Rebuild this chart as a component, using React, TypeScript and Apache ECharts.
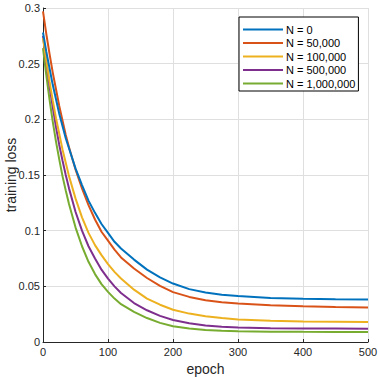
import React, { useEffect, useRef } from "react";
import * as echarts from "echarts";

const epochs = [0, 5, 10, 15, 20, 25, 30, 35, 40, 50, 60, 70, 80, 90, 100, 110, 120, 140, 160, 180, 200, 225, 250, 275, 300, 350, 400, 450, 500];

const seriesNames = ["N = 0", "N = 50,000", "N = 100,000", "N = 500,000", "N = 1,000,000"];
const seriesColors = ["#0072BD", "#D95319", "#EDB120", "#7E2F8E", "#77AC30"];

const lossN0 = [0.278, 0.261, 0.246, 0.231, 0.218, 0.205, 0.194, 0.183, 0.174, 0.156, 0.141, 0.127, 0.116, 0.106, 0.098, 0.090, 0.084, 0.074, 0.065, 0.058, 0.0525, 0.0475, 0.0445, 0.0425, 0.0413, 0.0396, 0.0388, 0.0384, 0.0382];
const lossN50k = [0.297, 0.277, 0.259, 0.242, 0.227, 0.212, 0.199, 0.186, 0.175, 0.155, 0.138, 0.123, 0.110, 0.099, 0.091, 0.083, 0.076, 0.066, 0.0575, 0.0505, 0.0448, 0.0405, 0.0375, 0.0357, 0.0345, 0.033, 0.032, 0.0314, 0.031];
const lossN100k = [0.273, 0.253, 0.234, 0.217, 0.201, 0.187, 0.173, 0.161, 0.149, 0.129, 0.112, 0.098, 0.087, 0.078, 0.070, 0.063, 0.057, 0.047, 0.039, 0.0335, 0.029, 0.0255, 0.0232, 0.0215, 0.0203, 0.019, 0.0184, 0.0182, 0.018];
const lossN500k = [0.275, 0.252, 0.230, 0.211, 0.193, 0.177, 0.163, 0.150, 0.138, 0.117, 0.100, 0.086, 0.075, 0.065, 0.057, 0.050, 0.044, 0.035, 0.0285, 0.0235, 0.0198, 0.0168, 0.0149, 0.0137, 0.013, 0.0124, 0.0122, 0.0121, 0.012];
const lossN1M = [0.264, 0.240, 0.218, 0.198, 0.180, 0.164, 0.149, 0.136, 0.124, 0.103, 0.086, 0.072, 0.061, 0.052, 0.045, 0.039, 0.034, 0.027, 0.0215, 0.0172, 0.0142, 0.0121, 0.0108, 0.0101, 0.0097, 0.0093, 0.0091, 0.009, 0.009];

const allLoss = [lossN0, lossN50k, lossN100k, lossN500k, lossN1M];

const FONT = "'Liberation Sans', Arial, Helvetica, sans-serif";
const TEXT = "#262626";

export default function App() {
  const ref = useRef<HTMLDivElement>(null);
  useEffect(() => {
    if (!ref.current) return;
    const chart = echarts.init(ref.current, null, { renderer: "svg" });
    chart.setOption({
      animation: false,
      backgroundColor: "#ffffff",
      textStyle: { fontFamily: FONT },
      grid: { left: 43, right: 10, top: 8, bottom: 36, containLabel: false, outerBoundsMode: "none" },
      legend: {
        orient: "vertical",
        left: 239,
        top: 17,
        backgroundColor: "#ffffff",
        borderColor: "#000000",
        borderWidth: 1,
        borderRadius: 0,
        padding: [6, 3, 1, 4],
        itemWidth: 40,
        itemHeight: 2,
        itemGap: 0.5,
        icon: "rect",
        textStyle: { fontFamily: FONT, fontSize: 11, color: "#000000", lineHeight: 13, padding: [0, 0, 0, -2] },
        data: seriesNames,
      },
      xAxis: {
        type: "value",
        min: 0,
        max: 500,
        interval: 100,
        name: "epoch",
        nameLocation: "middle",
        nameGap: 20,
        nameMoveOverlap: false,
        nameTextStyle: { fontFamily: FONT, fontSize: 14, color: TEXT },
        axisLine: { show: true, onZero: false, lineStyle: { color: TEXT, width: 1 } },
        axisTick: { show: true, inside: true, length: 3, lineStyle: { color: TEXT } },
        axisLabel: { fontFamily: FONT, fontSize: 11, color: TEXT, margin: 4 },
        splitLine: { show: true, lineStyle: { color: "#dfdfdf", width: 1 } },
      },
      yAxis: {
        type: "value",
        min: 0,
        max: 0.3,
        interval: 0.05,
        name: "training loss",
        nameLocation: "middle",
        nameGap: 25,
        nameMoveOverlap: false,
        nameRotate: 90,
        nameTextStyle: { fontFamily: FONT, fontSize: 14, color: TEXT },
        axisLine: { show: true, onZero: false, lineStyle: { color: TEXT, width: 1 } },
        axisTick: { show: true, inside: true, length: 3, lineStyle: { color: TEXT } },
        axisLabel: { fontFamily: FONT, fontSize: 11, color: TEXT, margin: 3 },
        splitLine: { show: true, lineStyle: { color: "#dfdfdf", width: 1 } },
      },
      series: allLoss.map((vals, i) => ({
        name: seriesNames[i],
        type: "line",
        data: epochs.map((e, j) => [e, vals[j]]),
        symbol: "none",
        smooth: false,
        color: seriesColors[i],
        lineStyle: { width: 2, color: seriesColors[i] },
        z: 10 - i,
      })),
    });
    return () => chart.dispose();
  }, []);
  return <div ref={ref} style={{ width: 378, height: 378, position: "absolute", left: 0, top: 0 }} />;
}
